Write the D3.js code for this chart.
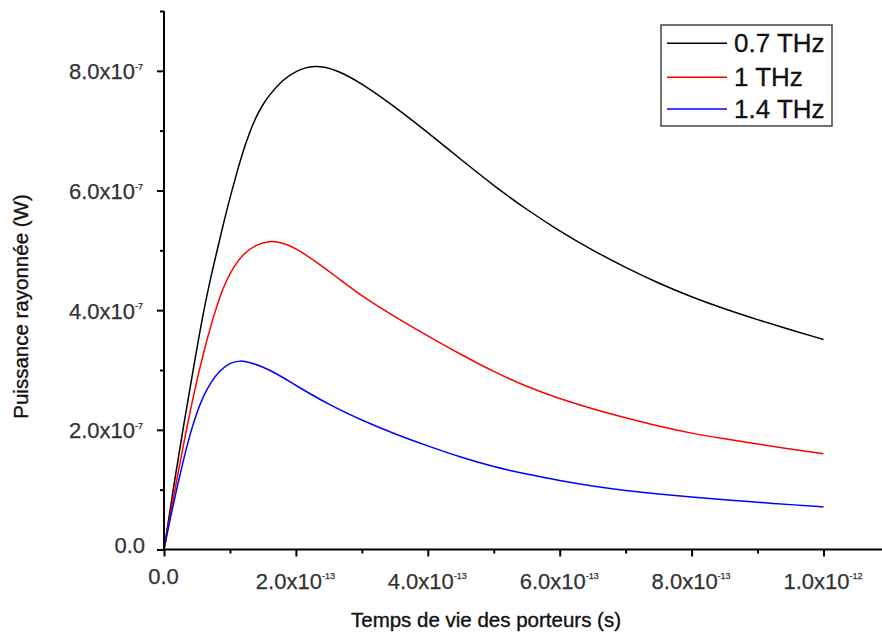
<!DOCTYPE html>
<html><head><meta charset="utf-8">
<script src="https://cdn.jsdelivr.net/npm/d3@7/dist/d3.min.js"></script>
<style>
html,body{margin:0;padding:0;background:#fff;}
svg{display:block;font-family:"Liberation Sans",Arial,sans-serif;}
</style></head>
<body>
<svg id="chart" width="882" height="637"></svg>
<script>
// ---- data (tau in units of 1e-13 s, power in units of 1e-7 W) ----
const TAU_UNIT = 1e-13, P_UNIT = 1e-7;
const seriesNames = ["0.7 THz", "1 THz", "1.4 THz"];
const seriesColors = ["#000000", "#ff0000", "#0000ff"];

const tau07 = [0,0.15,0.3,0.45,0.6,0.75,0.9,1.0,1.13,1.2,1.3,1.4,1.5,1.6,1.8,2.0,2.27,2.6,3.0,3.5,4.0,4.5,5.0,5.5,6.0,6.5,7.0,7.5,8.0,8.5,9.0,9.5,10.0];
const p07   = [0,1.08,2.1,3.05,4.0,4.75,5.44,5.88,6.4,6.66,6.98,7.24,7.44,7.6,7.85,8.0,8.1,8.03,7.79,7.4,6.97,6.52,6.08,5.68,5.32,5.0,4.71,4.45,4.22,4.02,3.84,3.67,3.51];

const tau10 = [0,0.15,0.3,0.45,0.6,0.75,0.9,1.05,1.2,1.4,1.6,1.8,2.0,2.2,2.6,3.0,3.5,4.0,4.5,5.0,5.5,6.0,6.5,7.0,7.5,8.0,8.5,9.0,9.5,10.0];
const p10   = [0,0.92,1.78,2.6,3.3,3.9,4.4,4.72,4.94,5.1,5.16,5.13,5.03,4.89,4.57,4.23,3.89,3.57,3.26,2.97,2.72,2.52,2.35,2.2,2.06,1.94,1.85,1.76,1.68,1.6];

const tau14 = [0,0.1,0.2,0.3,0.4,0.5,0.6,0.7,0.85,1.0,1.15,1.3,1.5,1.71,2.0,2.5,3.0,3.5,4.0,4.5,5.0,5.5,6.0,6.5,7.0,7.5,8.0,8.5,9.0,9.5,10.0];
const p14   = [0,0.55,1.05,1.52,1.95,2.3,2.57,2.78,3.0,3.12,3.16,3.13,3.05,2.94,2.74,2.42,2.16,1.93,1.73,1.54,1.38,1.26,1.15,1.06,0.985,0.925,0.875,0.83,0.79,0.75,0.71];

const xMajorTicks = [0,2,4,6,8,10];
const xMinorTicks = [1,3,5,7,9];
const xTickMant = ["0.0","2.0x10","4.0x10","6.0x10","8.0x10","1.0x10"];
const xTickExp  = ["","-13","-13","-13","-13","-12"];
const yMajorTicks = [0,2,4,6,8];
const yMinorTicks = [1,3,5,7,9];
const yTickMant = ["0.0","2.0x10","4.0x10","6.0x10","8.0x10"];
const yTickExp  = ["","-7","-7","-7","-7"];

const xTitle = "Temps de vie des porteurs (s)";
const yTitle = "Puissance rayonnée (W)";

// ---- layout ----
const svg = d3.select("#chart");
const X0 = 164, X1 = 823.5;   // pixel of 0 and 1e-12
const Y0 = 549.5, YT = 11;    // pixel of 0 and 9e-7

const x = d3.scaleLinear().domain([0, 10*TAU_UNIT]).range([X0, X1]);
const y = d3.scaleLinear().domain([0, 9*P_UNIT]).range([Y0, YT]);

// curves
const seriesData = [
  tau07.map((t,i)=>({t:t*TAU_UNIT, p:p07[i]*P_UNIT})),
  tau10.map((t,i)=>({t:t*TAU_UNIT, p:p10[i]*P_UNIT})),
  tau14.map((t,i)=>({t:t*TAU_UNIT, p:p14[i]*P_UNIT}))
];
const line = d3.line().x(d=>x(d.t)).y(d=>y(d.p)).curve(d3.curveBasis);
seriesData.forEach((s,i)=>{
  svg.append("path").datum(s).attr("d", line)
    .attr("fill","none").attr("stroke", seriesColors[i]).attr("stroke-width",1.5)
    .attr("stroke-linejoin","round");
});

// x axis
const xAxisG = svg.append("g").attr("transform",`translate(0,${Y0})`);
xAxisG.append("line").attr("x1",X0-1).attr("x2",900).attr("y1",0).attr("y2",0)
  .attr("stroke","#000").attr("stroke-width",2);
const xMajor = xAxisG.append("g").call(d3.axisBottom(x).tickValues(xMajorTicks.map(v=>v*TAU_UNIT)).tickSize(7).tickPadding(0).tickFormat(()=>""));
const xMinor = xAxisG.append("g").call(d3.axisBottom(x).tickValues(xMinorTicks.map(v=>v*TAU_UNIT)).tickSize(4).tickFormat(()=>""));
[xMajor,xMinor].forEach(g=>{
  g.select(".domain").remove();
  g.selectAll(".tick line").attr("stroke","#000").attr("stroke-width",2);
});
xMajor.selectAll(".tick text").each(function(d,i){
  const t = d3.select(this);
  t.text(null).attr("fill","#333").attr("font-size",22).attr("text-anchor","middle")
   .attr("dy",null).attr("x",-1).attr("y", xTickExp[i] ? 39 : 34)
   .attr("stroke","#333").attr("stroke-width",0.25);
  t.append("tspan").text(xTickMant[i]);
  if (xTickExp[i]) t.append("tspan").attr("font-size",9).attr("dy",-9.5).text(xTickExp[i]);
});

// y axis
const yAxisG = svg.append("g").attr("transform",`translate(${X0},0)`);
yAxisG.append("line").attr("x1",0).attr("x2",0).attr("y1",YT).attr("y2",Y0+1)
  .attr("stroke","#000").attr("stroke-width",2);
const yMajor = yAxisG.append("g").call(d3.axisLeft(y).tickValues(yMajorTicks.map(v=>v*P_UNIT)).tickSize(7).tickFormat(()=>""));
const yMinor = yAxisG.append("g").call(d3.axisLeft(y).tickValues(yMinorTicks.map(v=>v*P_UNIT)).tickSize(4).tickFormat(()=>""));
[yMajor,yMinor].forEach(g=>{
  g.select(".domain").remove();
  g.selectAll(".tick line").attr("stroke","#000").attr("stroke-width",2);
});
yMajor.selectAll(".tick text").each(function(d,i){
  const t = d3.select(this);
  t.text(null).attr("fill","#333").attr("font-size",22).attr("text-anchor","end")
   .attr("dy",null).attr("x", yTickExp[i] ? -21 : -19).attr("y", yTickExp[i] ? 8 : 3)
   .attr("stroke","#333").attr("stroke-width",0.25);
  t.append("tspan").text(yTickMant[i]);
  if (yTickExp[i]) t.append("tspan").attr("font-size",9).attr("dy",-9.5).text(yTickExp[i]);
});

// axis titles
svg.append("text").attr("x",486).attr("y",627).attr("text-anchor","middle")
  .attr("font-size",20.5).attr("fill","#111").attr("stroke","#111").attr("stroke-width",0.35).text(xTitle);
svg.append("text").attr("transform","translate(28,306.5) rotate(-90)").attr("text-anchor","middle")
  .attr("font-size",20.5).attr("fill","#111").attr("stroke","#111").attr("stroke-width",0.35).text(yTitle);

// legend
const lg = svg.append("g");
lg.append("rect").attr("x",661).attr("y",25).attr("width",171).attr("height",101)
  .attr("fill","#fff").attr("stroke","#444").attr("stroke-width",1.5);
const legY = [43.3, 77.3, 109];
seriesNames.forEach((n,i)=>{
  lg.append("line").attr("x1",667).attr("x2",727).attr("y1",legY[i]).attr("y2",legY[i])
    .attr("stroke",seriesColors[i]).attr("stroke-width",1.5);
  lg.append("text").attr("x",734).attr("y",legY[i]+9).attr("font-size",26).attr("fill","#111")
    .attr("stroke","#111").attr("stroke-width",0.3).text(n);
});
</script>
</body></html>
